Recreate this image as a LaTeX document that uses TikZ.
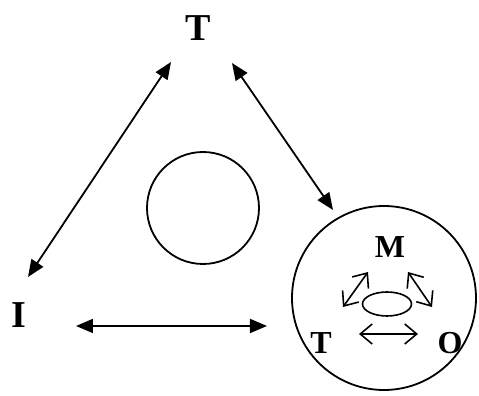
\documentclass[tikz,border=0pt]{standalone}
\usepackage{fontspec}
\setmainfont{Liberation Serif}
\usetikzlibrary{arrows.meta,shapes.geometric}

\begin{document}
\begin{tikzpicture}[
  x=0.5pt,y=-0.5pt,
  big/.style={font=\fontsize{19}{22}\selectfont\bfseries,inner sep=0pt},
  small/.style={font=\fontsize{16}{19}\selectfont\bfseries,inner sep=0pt},
  arrow/.style={{Triangle[length=8.5pt,width=7pt]}-{Triangle[length=8.5pt,width=7pt]},line width=0.9pt},
  open/.style={{Straight Barb[length=6pt,width=10pt,line width=0.8pt]}-{Straight Barb[length=6pt,width=10pt,line width=0.8pt]},line width=0.8pt},
  ring/.style={draw,circle,line width=0.9pt,inner sep=0pt}
]
  \useasboundingbox (0,0) rectangle (479,396);
  % labels of the triangle
  \node[big] (top) at (198,28) {T};
  \node[big] (left) at (19,315) {I};
  % circles
  \node[ring,minimum size=56pt] (mid) at (203,208) {};
  \node[ring,minimum size=92pt] (group) at (384,298) {};
  % labels inside the group
  \node[small] (m) at (390,247) {M};
  \node[small] (t) at (321,343) {T};
  \node[small] (o) at (450,343) {O};
  \node[draw,ellipse,line width=0.8pt,inner sep=0pt,minimum width=24.5pt,minimum height=12pt] (core) at (387,304) {};
  % arrow ends
  \coordinate (a1) at (171,62);
  \coordinate (a2) at (28,277);
  \coordinate (b1) at (232,63);
  \coordinate (b2) at (333,210);
  \coordinate (c1) at (76,326);
  \coordinate (c2) at (267,326);
  \coordinate (d1) at (343,307);
  \coordinate (d2) at (368,272);
  \coordinate (e1) at (408,272);
  \coordinate (e2) at (432,307);
  \coordinate (f1) at (359,334);
  \coordinate (f2) at (418,334);
  \draw[arrow] (a1) -- (a2);
  \draw[arrow] (b1) -- (b2);
  \draw[arrow] (c1) -- (c2);
  \draw[open] (d1) -- (d2);
  \draw[open] (e1) -- (e2);
  \draw[open] (f1) -- (f2);
\end{tikzpicture}
\end{document}
